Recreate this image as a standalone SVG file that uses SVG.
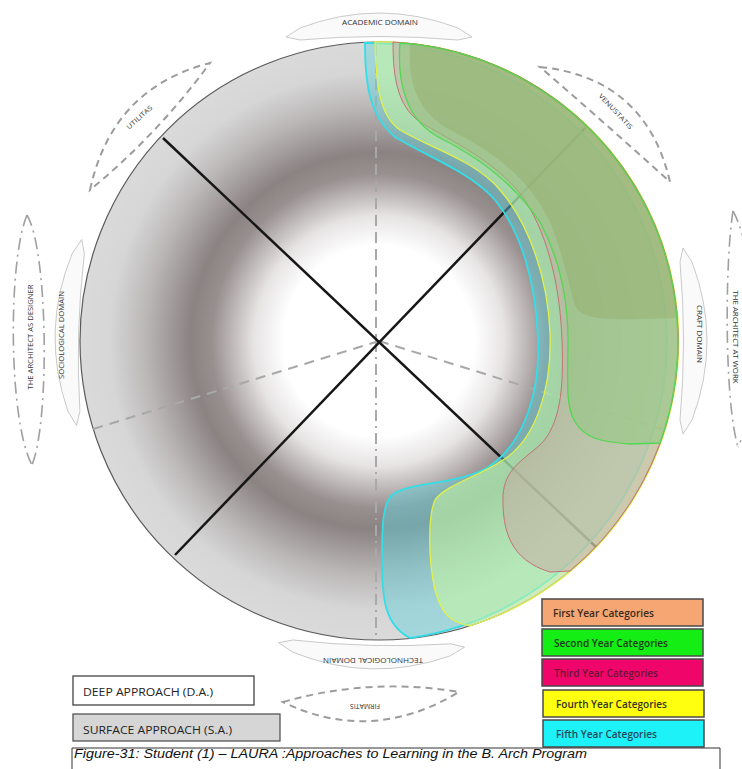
<svg xmlns="http://www.w3.org/2000/svg" width="742" height="769" viewBox="0 0 742 769">
<style>
.lbl{font-family:"Open Sans","Liberation Sans",sans-serif;fill:#333;font-size:6.5px}
.banner{fill:#fafafa;stroke:#bcbcbc;stroke-width:0.8}
.dash{fill:none;stroke:#9c9c9c;stroke-width:2;stroke-dasharray:7 5}
.dashdot{fill:none;stroke:#a0a0a0;stroke-width:1.6;stroke-dasharray:12 5 2 5}
.axis{fill:none;stroke:#a8a8a8;stroke-width:2}
.cross{stroke:#161616;stroke-width:2.5}
.y5{fill:#5fd3dc;fill-opacity:.45;stroke:#35dde6;stroke-width:1.8}
.y4{fill:#c8f8a0;fill-opacity:.55;stroke:#e2f048;stroke-width:1.3}
.y3{fill:#c8a8a0;fill-opacity:.5;stroke:#c27474;stroke-width:1}
.y2{fill:#90c880;fill-opacity:.55;stroke:#52d852;stroke-width:1.3}
.y1{fill:#90a058;fill-opacity:.3;stroke:none}
.leg{stroke:#4a4a4a;stroke-width:1.5}
.legt{font-family:"Open Sans","Liberation Sans",sans-serif;font-size:10.5px;font-weight:600}
.appr{font-family:"Open Sans","Liberation Sans",sans-serif;font-size:10.5px;fill:#222}
</style>
<defs>
<radialGradient id="ring" gradientUnits="userSpaceOnUse" cx="379" cy="341" r="299">
<stop offset="0" stop-color="#ffffff"/>
<stop offset="0.32" stop-color="#ffffff"/>
<stop offset="0.42" stop-color="#e6e3e3"/>
<stop offset="0.56" stop-color="#988f8f"/>
<stop offset="0.63" stop-color="#8b8282"/>
<stop offset="0.78" stop-color="#bab6b6"/>
<stop offset="0.9" stop-color="#d6d6d6"/>
<stop offset="1" stop-color="#dadada"/>
</radialGradient>
<path id="bannerShape" d="M286,37 L300,28 Q379,-2 458,28 L472,37 L458,40 Q379,33 300,40 Z"/>
</defs>
<rect width="742" height="769" fill="#ffffff"/>

<g id="main-circle">
<circle cx="379" cy="341" r="299" fill="url(#ring)" stroke="#5a5a5a" stroke-width="1.2"/>
</g>

<g id="connectors">
<line class="axis" x1="376" y1="45" x2="376" y2="341" stroke-dasharray="11 6"/>
<line class="axis" x1="376" y1="341" x2="376" y2="640" stroke-dasharray="11 5 2 5"/>
<line class="axis" x1="379" y1="341" x2="93" y2="429" stroke-dasharray="10 7"/>
<line class="axis" x1="379" y1="341" x2="665" y2="430" stroke-dasharray="10 7"/>
<line class="cross" x1="163" y1="138" x2="596" y2="547"/>
<line class="cross" x1="585" y1="128" x2="175" y2="555"/>
</g>

<g id="fifth-year">
<path class="y5" d="M365,43 C365,80 368,115 395,137 C430,158 470,172 495,200 C520,230 536,280 538,340 C540,400 520,450 483,470 C450,485 410,482 392,495 C382,505 382,530 382,560 C382,600 385,625 410,638 A299,299 0 0 0 365,43 Z"/>
</g>
<g id="fourth-year">
<path class="y4" d="M375,42 C376,80 378,115 400,130 C430,148 475,160 500,190 C530,225 548,280 550,333 C552,390 535,440 503,460 C480,476 445,485 435,500 C428,515 428,560 435,590 C442,615 450,622 470,626 A299,299 0 0 0 375,42 Z"/>
</g>
<g id="third-year">
<path class="y3" d="M393,42 C393,80 398,110 425,125 C460,145 500,165 525,200 C550,240 560,290 562,340 C564,390 560,425 540,445 C520,462 505,470 503,495 C502,530 510,560 550,572 L570,571 A299,299 0 0 0 393,42 Z"/>
</g>
<g id="second-year">
<path class="y2" d="M400,43 C397,80 405,120 440,138 C480,158 515,185 540,222 C560,260 568,300 568,340 C568,380 565,405 575,422 C585,438 600,442 630,444 L660,443 A299,299 0 0 0 400,43 Z"/>
</g>
<g id="first-year">
<path class="y1" d="M410,44 C408,80 415,110 450,130 C495,152 530,180 550,222 C565,260 570,290 575,305 C580,318 600,320 640,319 L677,318 A299,299 0 0 0 410,44 Z"/>
</g>

<g id="academic-domain">
<use href="#bannerShape" class="banner"/>
<text class="lbl" x="380" y="25" text-anchor="middle" textLength="76" lengthAdjust="spacingAndGlyphs">ACADEMIC DOMAIN</text>
</g>
<g id="craft-domain">
<use href="#bannerShape" class="banner" transform="rotate(90 379 341)"/>
<text class="lbl" transform="translate(697 334) rotate(90)" text-anchor="middle" textLength="58" lengthAdjust="spacingAndGlyphs">CRAFT DOMAIN</text>
</g>
<g id="technological-domain">
<use href="#bannerShape" class="banner" transform="rotate(181.4 379 341)"/>
<text class="lbl" transform="translate(373 658) rotate(180)" text-anchor="middle" textLength="100" lengthAdjust="spacingAndGlyphs">TECHNOLOGICAL DOMAIN</text>
</g>
<g id="sociological-domain">
<use href="#bannerShape" class="banner" transform="translate(4 0) rotate(-88.4 379 341)"/>
<text class="lbl" transform="translate(64 335) rotate(-90)" text-anchor="middle" textLength="88" lengthAdjust="spacingAndGlyphs">SOCIOLOGICAL DOMAIN</text>
</g>

<g id="utilitas">
<path class="dash" d="M90,190 Q112,88 210,63 Q158,134 90,190 Z"/>
<text class="lbl" transform="translate(141 119) rotate(-42)" text-anchor="middle" textLength="32" lengthAdjust="spacingAndGlyphs">UTILITAS</text>
</g>
<g id="venustatis">
<path class="dash" d="M540,67 Q646,78 670,182 Q606,124 540,67 Z"/>
<text class="lbl" transform="translate(614 113) rotate(47)" text-anchor="middle" textLength="46" lengthAdjust="spacingAndGlyphs">VENUSTATIS</text>
</g>
<g id="firmatis">
<path class="dash" d="M283,702 Q371,677 459,692 Q371,745 283,702 Z"/>
<text class="lbl" transform="translate(365 704) rotate(180)" text-anchor="middle" textLength="30" lengthAdjust="spacingAndGlyphs">FIRMATIS</text>
</g>

<g id="architect-as-designer">
<path class="dashdot" d="M27,215 C8,260 8,420 32,465"/>
<path class="dashdot" d="M27,215 C48,250 50,420 32,465"/>
<text class="lbl" style="font-size:7px" transform="translate(33 337) rotate(-90)" text-anchor="middle" textLength="105" lengthAdjust="spacingAndGlyphs">THE ARCHITECT AS DESIGNER</text>
</g>
<g id="architect-at-work">
<path class="dashdot" d="M733,211 C725,260 724,400 738,447"/>
<path class="dashdot" d="M733,211 C760,260 760,400 738,447"/>
<text class="lbl" style="font-size:7px" transform="translate(733 337) rotate(90)" text-anchor="middle" textLength="93" lengthAdjust="spacingAndGlyphs">THE ARCHITECT AT WORK</text>
</g>

<g id="legend-first">
<rect class="leg" x="542" y="599" width="161" height="27" fill="#f5a673"/>
<text class="legt" x="553" y="617" fill="#3a2a1c" textLength="101" lengthAdjust="spacingAndGlyphs">First Year Categories</text>
</g>
<g id="legend-second">
<rect class="leg" x="542" y="629" width="161" height="27" fill="#14ee14"/>
<text class="legt" x="554" y="647" fill="#1c3a1c" textLength="114" lengthAdjust="spacingAndGlyphs">Second Year Categories</text>
</g>
<g id="legend-third">
<rect class="leg" x="542" y="659" width="161" height="27" fill="#f0066a"/>
<text class="legt" x="554" y="677" fill="#6e1236" textLength="104" lengthAdjust="spacingAndGlyphs">Third Year Categories</text>
</g>
<g id="legend-fourth">
<rect class="leg" x="543" y="690" width="161" height="27" fill="#ffff10"/>
<text class="legt" x="556" y="708" fill="#333322" textLength="111" lengthAdjust="spacingAndGlyphs">Fourth Year Categories</text>
</g>
<g id="legend-fifth">
<rect class="leg" x="543" y="720" width="161" height="27" fill="#1cf2f8"/>
<text class="legt" x="556" y="738" fill="#25465e" textLength="101" lengthAdjust="spacingAndGlyphs">Fifth Year Categories</text>
</g>

<g id="deep-approach">
<rect x="73" y="676" width="181" height="29" fill="#ffffff" stroke="#444" stroke-width="1.3"/>
<text class="appr" x="83" y="696" textLength="130" lengthAdjust="spacingAndGlyphs">DEEP APPROACH (D.A.)</text>
</g>
<g id="surface-approach">
<rect x="73" y="714" width="207" height="27" fill="#d6d6d6" stroke="#555" stroke-width="1.3"/>
<text class="appr" x="83" y="734" textLength="149" lengthAdjust="spacingAndGlyphs">SURFACE APPROACH (S.A.)</text>
</g>

<g id="caption">
<path d="M72,769 L72,748 L720,748 L720,769" fill="none" stroke="#333" stroke-width="1"/>
<text x="74" y="758" font-family="Liberation Sans, Arial, sans-serif" font-style="italic" font-size="12.5" fill="#111" textLength="513" lengthAdjust="spacingAndGlyphs">Figure-31: Student (1) – LAURA :Approaches to Learning in the B. Arch Program</text>
</g>
</svg>
